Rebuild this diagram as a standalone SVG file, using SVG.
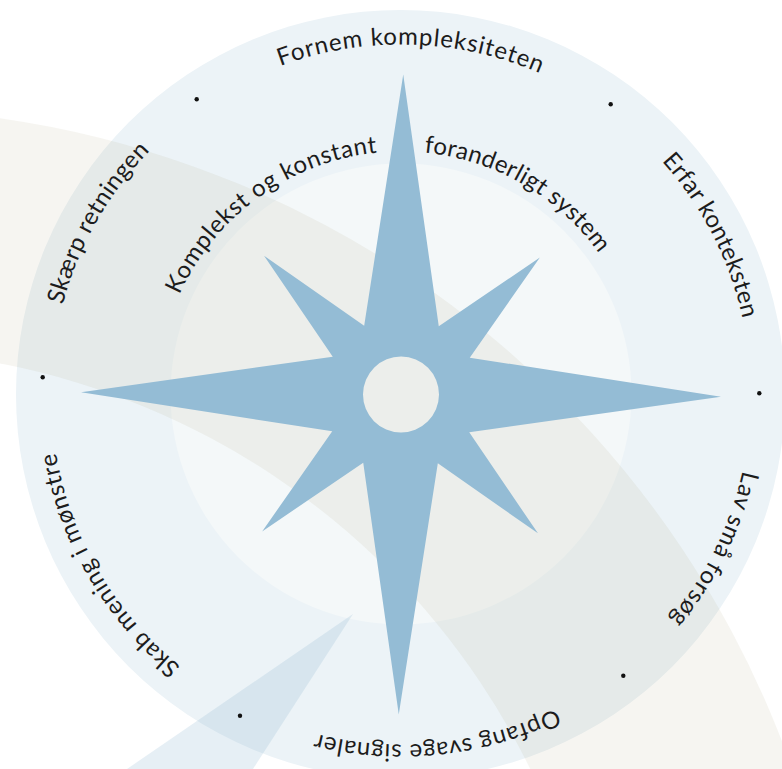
<svg xmlns="http://www.w3.org/2000/svg" xmlns:xlink="http://www.w3.org/1999/xlink" width="782" height="769" viewBox="0 0 782 769">
  <style>
    .lbl { font-family: Lato, "Liberation Sans", sans-serif; font-size: 24px; fill: #1c1c1c; }
    .dot { fill: #111111; }
  </style>
  <defs>
    <path id="p-fornem" d="M58.15,324.12 A350,350 0 0,1 747.24,343.37"/>
    <path id="p-erfar" d="M297.50,60.15 A350,350 0 0,1 612.61,673.29"/>
    <path id="p-lav" d="M607.71,112.06 A350,350 0 0,1 303.35,730.60"/>
    <path id="p-opfang" d="M750.19,418.31 A350,350 0 0,1 64.73,491.56"/>
    <path id="p-skab" d="M522.43,722.76 A350,350 0 0,1 174.62,127.57"/>
    <path id="p-skaerp" d="M178.37,664.57 A350,350 0 0,1 517.83,64.58"/>
    <path id="p-komplekst" d="M182.04,499.88 A243,243 0 0,1 570.70,220.59"/>
    <path id="p-foranderligt" d="M214.85,238.30 A243,243 0 0,1 629.35,477.61"/>
  </defs>

  <rect width="782" height="769" fill="#ffffff"/>

  <g id="background">
    <circle id="outer-ring" cx="400.5" cy="394.5" r="384.5" fill="#ecf3f7"/>
    <circle id="inner-disc" cx="401" cy="394" r="230.5" fill="#f4f8f9"/>
    <path id="band" fill="#a89a78" fill-opacity="0.1" fill-rule="evenodd"
          d="M848.5,1098 A990,990 0 1,0 -1131.5,1098 A990,990 0 1,0 848.5,1098 Z
             M606.5,1098 A748,748 0 1,0 -889.5,1098 A748,748 0 1,0 606.5,1098 Z"/>
    <polygon id="beam" points="353,614 81.8,800 233,800" fill="#8cb4d2" fill-opacity="0.22"/>
  </g>

  <g id="compass" transform="translate(401,394.5) rotate(0.4)">
    <path fill="#94bcd5" fill-rule="evenodd"
          d="M0,-320 L37.3,-68.5 L137.9,-137.9 L68.5,-37.3 L320,0 L68.5,37.3 L137.9,137.9 L37.3,68.5
             L0,320 L-37.3,68.5 L-137.9,137.9 L-68.5,37.3 L-320,0 L-68.5,-37.3 L-137.9,-137.9 L-37.3,-68.5 Z
             M38,0 A38,38 0 1,0 -38,0 A38,38 0 1,0 38,0 Z"/>
  </g>

  <g id="label-fornem"><text class="lbl"><textPath xlink:href="#p-fornem" href="#p-fornem" startOffset="50%" text-anchor="middle" textLength="266" lengthAdjust="spacing">Fornem kompleksiteten</textPath></text></g>
  <g id="label-erfar"><text class="lbl"><textPath xlink:href="#p-erfar" href="#p-erfar" startOffset="50%" text-anchor="middle" textLength="179" lengthAdjust="spacing">Erfar konteksten</textPath></text></g>
  <g id="label-lav"><text class="lbl"><textPath xlink:href="#p-lav" href="#p-lav" startOffset="50%" text-anchor="middle" textLength="167" lengthAdjust="spacing">Lav små forsøg</textPath></text></g>
  <g id="label-opfang"><text class="lbl"><textPath xlink:href="#p-opfang" href="#p-opfang" startOffset="50%" text-anchor="middle" textLength="246" lengthAdjust="spacing">Opfang svage signaler</textPath></text></g>
  <g id="label-skab"><text class="lbl"><textPath xlink:href="#p-skab" href="#p-skab" startOffset="50%" text-anchor="middle" textLength="253" lengthAdjust="spacing">Skab mening i mønstre</textPath></text></g>
  <g id="label-skaerp"><text class="lbl"><textPath xlink:href="#p-skaerp" href="#p-skaerp" startOffset="50%" text-anchor="middle" textLength="179" lengthAdjust="spacing">Skærp retningen</textPath></text></g>
  <g id="label-komplekst"><text class="lbl"><textPath xlink:href="#p-komplekst" href="#p-komplekst" startOffset="50%" text-anchor="middle" textLength="255" lengthAdjust="spacing">Komplekst og konstant</textPath></text></g>
  <g id="label-foranderligt"><text class="lbl"><textPath xlink:href="#p-foranderligt" href="#p-foranderligt" startOffset="50%" text-anchor="middle" textLength="208" lengthAdjust="spacing">foranderligt system</textPath></text></g>

  <g id="dots">
    <circle class="dot" cx="196.7" cy="99.3" r="2.2"/>
    <circle class="dot" cx="610.7" cy="104.3" r="2.2"/>
    <circle class="dot" cx="759.3" cy="393.3" r="2.2"/>
    <circle class="dot" cx="623.3" cy="675.7" r="2.2"/>
    <circle class="dot" cx="240" cy="715.7" r="2.2"/>
    <circle class="dot" cx="42.7" cy="377.3" r="2.2"/>
  </g>
</svg>
